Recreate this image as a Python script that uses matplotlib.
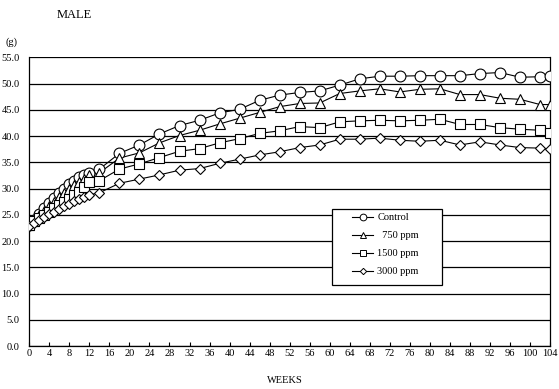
import numpy as np
import matplotlib
matplotlib.use('Agg')
import matplotlib.pyplot as plt
from matplotlib.patches import Rectangle

plt.rcParams['font.family'] = ['Liberation Serif', 'DejaVu Serif']

# weeks on study
weeks = [0, 1, 2, 3, 4, 5, 6, 7, 8, 9, 10, 11, 12, 14,
         18, 22, 26, 30, 34, 38, 42, 46, 50, 54, 58, 62, 66, 70, 74,
         78, 82, 86, 90, 94, 98, 102, 104]

# body weight (g)
control = [23.1, 24.1, 25.2, 26.3, 27.3, 28.2, 29.1, 30.0, 30.8, 31.5, 32.2, 32.6, 32.9, 33.7,
           36.7, 38.3, 40.4, 42.0, 43.0, 44.4, 45.1, 46.8, 47.8, 48.3, 48.6, 49.7, 50.9, 51.4, 51.4,
           51.5, 51.5, 51.5, 51.9, 52.1, 51.2, 51.3, 51.5]
ppm750 = [23.0, 23.9, 24.9, 25.8, 26.7, 27.5, 28.3, 29.1, 29.9, 30.6, 31.3, 31.9, 32.5, 33.0,
          35.8, 36.8, 38.7, 40.1, 41.1, 42.3, 43.4, 44.5, 45.6, 46.2, 46.3, 48.1, 48.6, 49.0, 48.4,
          48.9, 49.0, 47.9, 47.9, 47.2, 47.0, 46.0, 46.0]
ppm1500 = [23.0, 23.8, 24.4, 25.0, 25.6, 26.2, 26.8, 27.5, 28.1, 28.8, 29.4, 30.2, 31.2, 31.5,
           33.7, 34.7, 35.9, 37.1, 37.6, 38.7, 39.5, 40.5, 41.0, 41.8, 41.6, 42.7, 42.9, 43.0, 42.9,
           43.0, 43.2, 42.2, 42.2, 41.6, 41.3, 41.1, 40.6]
ppm3000 = [22.8, 23.4, 24.0, 24.6, 25.1, 25.6, 26.1, 26.6, 27.1, 27.6, 28.0, 28.4, 28.8, 29.2,
           31.0, 31.8, 32.6, 33.5, 33.8, 34.8, 35.6, 36.4, 37.0, 37.8, 38.3, 39.4, 39.4, 39.6, 39.2,
           39.0, 39.2, 38.3, 38.9, 38.3, 37.8, 37.7, 37.5]

series = [(control, 'o', 7.8, 'Control'),
          (ppm750, '^', 7.5, '  750 ppm'),
          (ppm1500, 's', 6.5, '1500 ppm'),
          (ppm3000, 'D', 5.2, '3000 ppm')]

fig = plt.figure(figsize=(5.59, 3.89), dpi=100)
ax = fig.add_axes([0.0524, 0.1105, 0.9316, 0.7422])

for i in range(0, 60, 5):
    ax.axhline(i, color='black', lw=0.9, zorder=1)

handles = []
for vals, mk, ms, lab in series:
    ax.plot(weeks, vals, color='black', lw=0.8, zorder=3)
    ax.plot(weeks, vals, linestyle='none', marker=mk, markersize=ms,
            markerfacecolor='white', markeredgecolor='black', markeredgewidth=0.8, zorder=4)
    h, = ax.plot([], [], color='black', lw=0.8, marker=mk, markersize=ms * 0.62,
                 markerfacecolor='white', markeredgecolor='black', markeredgewidth=0.7, label=lab)
    handles.append(h)

ax.set_xlim(0, 104)
ax.set_ylim(0, 55)
ax.set_xticks(range(0, 105, 4))
ax.set_yticks(range(0, 56, 5))
ax.set_yticklabels([f"{v:.1f}" for v in range(0, 56, 5)])
ax.tick_params(axis='x', direction='in', length=3, width=0.8, pad=2, labelsize=7.5)
ax.tick_params(axis='y', length=0, pad=7, labelsize=7.5)
for s in ax.spines.values():
    s.set_color('black')
    s.set_linewidth(0.9)
ax.spines['top'].set_visible(False)

# legend box (white, covers the grid lines)
box = Rectangle((0.581, 0.211), 0.211, 0.2635, transform=ax.transAxes,
                facecolor='white', edgecolor='black', lw=0.9, zorder=5)
ax.add_patch(box)
leg = ax.legend(handles=handles, loc='upper left', bbox_to_anchor=(0.62, 0.4607),
                borderaxespad=0, borderpad=0, fontsize=7.5, handlelength=2.0,
                handletextpad=0.4, labelspacing=0.84, frameon=False)
leg.set_zorder(6)

fig.text(0.102, 0.961, 'MALE', fontsize=9, va='center', ha='left')
fig.text(0.009, 0.892, '(g)', fontsize=7.5, va='center', ha='left')
fig.text(0.51, 0.023, 'WEEKS', fontsize=7.5, va='center', ha='center')

fig.savefig('out.png', dpi=100)
